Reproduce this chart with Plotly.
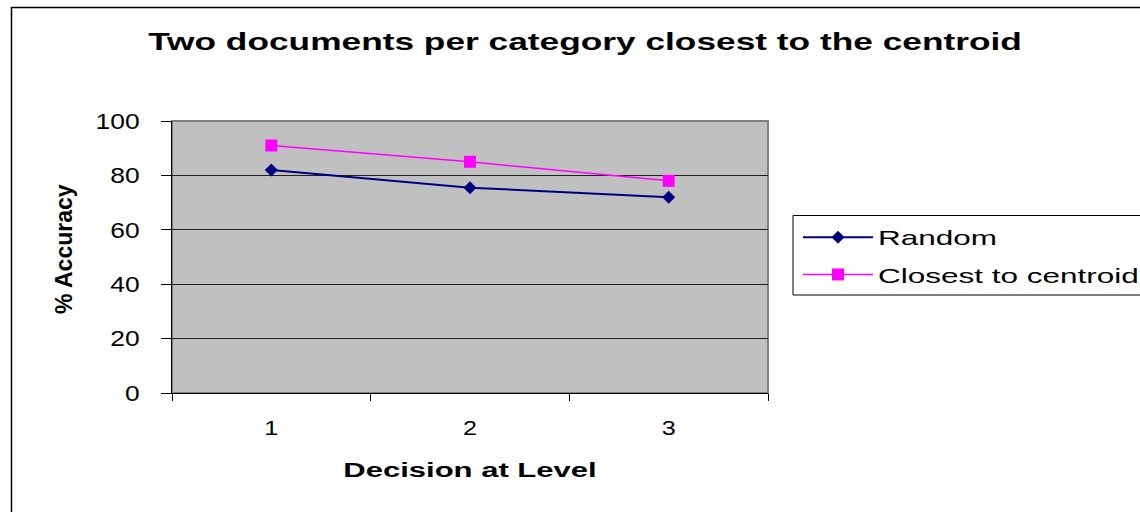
import plotly.graph_objects as go

# Accuracy per decision level for the two document-selection strategies
levels = [1, 2, 3]
level_labels = ["1", "2", "3"]
random_acc = [82, 75.5, 72]
centroid_acc = [91, 85, 78]
y_ticks = [0, 20, 40, 60, 80, 100]

FONT = "Liberation Sans, Arial, sans-serif"

fig = go.Figure()
fig.add_trace(go.Scatter(
    x=levels, y=random_acc, name="Random", mode="lines+markers",
    legendgroup="random",
    line=dict(color="#000080", width=2),
    marker=dict(symbol="diamond", size=10, color="#000080"),
))
fig.add_trace(go.Scatter(
    x=levels, y=centroid_acc, name="Closest to centroid", mode="lines+markers",
    legendgroup="centroid",
    line=dict(color="#FF00FF", width=1.5),
    marker=dict(symbol="square", size=12, color="#FF00FF"),
))

W, H = 1140, 512
L, R, T, B = 172, 372, 121, 119
pw, ph = W - L - R, H - T - B


def px_x(p):
    return (p - L) / pw


def px_y(p):
    return (H - B - p) / ph


fig.update_layout(
    width=W, height=H,
    margin=dict(l=L, r=R, t=T, b=B),
    paper_bgcolor="white",
    plot_bgcolor="#C0C0C0",
    font=dict(family=FONT, color="black", size=21),
    title=dict(
        text="<b>Two documents per category closest to the centroid</b>",
        x=585 / W, xanchor="center", y=1 - 42 / H, yanchor="middle",
        font=dict(size=24, family=FONT),
    ),
    showlegend=True,
    legend=dict(
        x=px_x(798), y=px_y(217), xanchor="left", yanchor="top",
        bgcolor="rgba(0,0,0,0)", borderwidth=0,
        font=dict(size=21, family=FONT),
        itemwidth=70, tracegroupgap=7,
    ),
    xaxis=dict(
        range=[0.5, 3.5],
        tickvals=levels, ticktext=level_labels,
        ticks="", showgrid=False, zeroline=False,
        showline=True, linecolor="black", linewidth=1,
        minor=dict(tick0=0.5, dtick=1, ticks="outside", ticklen=7,
                   tickcolor="black", showgrid=False),
        tickfont=dict(size=21),
        ticklabelstandoff=16,
        title=dict(text="<b>Decision at Level</b>", font=dict(size=20), standoff=24),
    ),
    yaxis=dict(
        range=[0, 100], tickvals=y_ticks,
        ticks="outside", ticklen=10, tickcolor="black",
        showgrid=True, gridcolor="#202020", gridwidth=1,
        zeroline=False, showline=True, linecolor="black", linewidth=1,
        tickfont=dict(size=22),
        ticklabelstandoff=17,
    ),
)

# Vertical axis caption
fig.add_annotation(
    text="<b>% Accuracy</b>", textangle=-90, showarrow=False,
    xref="paper", yref="paper", x=px_x(64), y=px_y(249),
    xanchor="center", yanchor="middle",
    font=dict(size=23, family=FONT),
)

# Plot-area frame on the top and right sides
fig.add_shape(type="rect", xref="paper", yref="paper", x0=0, x1=1, y0=0, y1=1,
              line=dict(color="#808080", width=2), layer="below")
# Legend box
fig.add_shape(type="rect", xref="paper", yref="paper",
              x0=px_x(793), x1=px_x(1160), y0=px_y(295), y1=px_y(215.5),
              line=dict(color="black", width=1))
# Outer chart frame
fig.add_shape(type="rect", xref="paper", yref="paper",
              x0=px_x(11.5), x1=px_x(1200), y0=px_y(560), y1=px_y(7.5),
              line=dict(color="black", width=1.5))

# Stretch the labels horizontally (wide lettering) once the plot is drawn
post = """
var gd = document.getElementById('{plot_id}');
function widen(sel, f) {
  gd.querySelectorAll(sel).forEach(function (t) {
    var w = t.getComputedTextLength();
    t.setAttribute('lengthAdjust', 'spacingAndGlyphs');
    t.setAttribute('textLength', (w * f).toFixed(1));
  });
}
widen('.gtitle', 1.47);
widen('.g-xtitle text', 1.55);
widen('.legendtext', 1.5);
widen('.xtick text, .ytick text', 1.2);
gd.querySelectorAll('.legend .scrollbox').forEach(function (e) {
  e.removeAttribute('clip-path');
});
"""

fig.write_html("out.html", post_script=post)
